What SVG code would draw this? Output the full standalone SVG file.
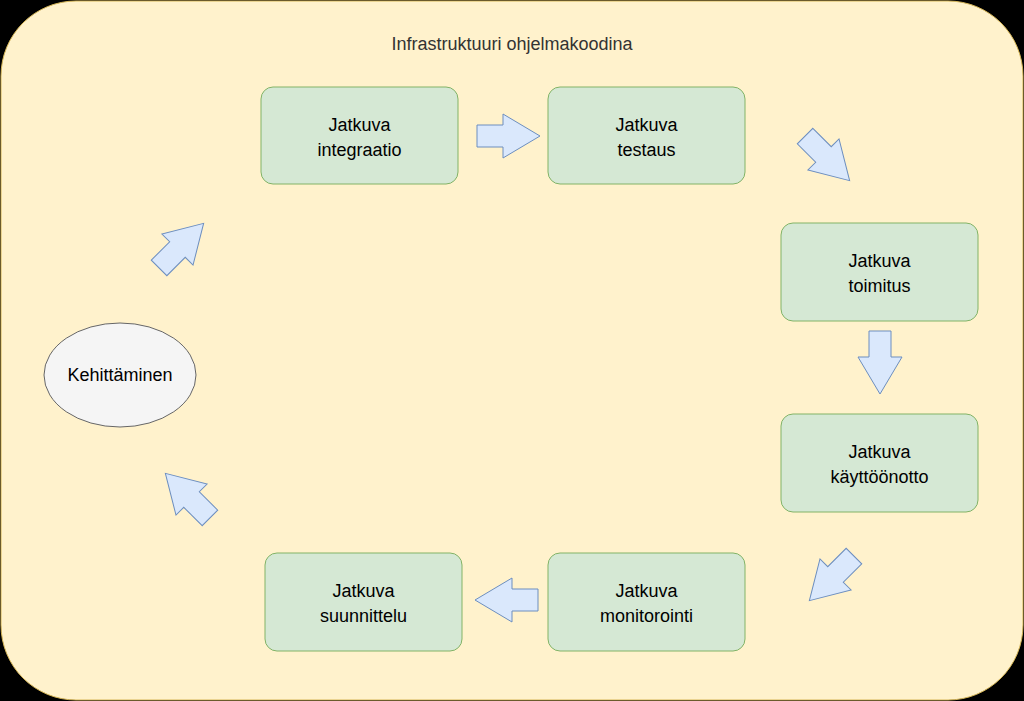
<svg xmlns="http://www.w3.org/2000/svg" width="1024" height="701" viewBox="0 0 1024 701">
<style>
.box{fill:#d5e8d4;stroke:#82b366;stroke-width:1}
.t{font-family:"Liberation Sans",Arial,sans-serif;font-size:18px;fill:#000;text-anchor:middle}
.arr{fill:#dae8fc;stroke:#6c8ebf;stroke-width:1}
</style>
<defs><path id="a" d="M-31,-11 L-5,-11 L-5,-22 L32,0 L-5,22 L-5,11 L-31,11 Z"/></defs>
<rect width="1024" height="701" fill="#000"/>
<g id="container"><rect x="1" y="1" width="1022" height="699" rx="75" fill="#fff2cc" stroke="#d6b656"/>
<text class="t" x="512" y="50" style="fill:#333">Infrastruktuuri ohjelmakoodina</text></g>
<g id="connectors">
<use href="#a" class="arr" transform="translate(508,136)"/>
<use href="#a" class="arr" transform="translate(827,158) rotate(45)"/>
<use href="#a" class="arr" transform="translate(880,362) rotate(90)"/>
<use href="#a" class="arr" transform="translate(832,578) rotate(135)"/>
<use href="#a" class="arr" transform="translate(507,600) rotate(180)"/>
<use href="#a" class="arr" transform="translate(188,496) rotate(225)"/>
<use href="#a" class="arr" transform="translate(181,246) rotate(-45)"/>
</g>
<g id="n1"><rect class="box" x="261" y="87" width="197" height="97" rx="12"/><text class="t" x="359.5" y="131">Jatkuva</text><text class="t" x="359.5" y="156">integraatio</text></g>
<g id="n2"><rect class="box" x="548" y="87" width="197" height="97" rx="12"/><text class="t" x="646.5" y="131">Jatkuva</text><text class="t" x="646.5" y="156">testaus</text></g>
<g id="n3"><rect class="box" x="781" y="223" width="197" height="98" rx="12"/><text class="t" x="879.5" y="267">Jatkuva</text><text class="t" x="879.5" y="292">toimitus</text></g>
<g id="n4"><rect class="box" x="781" y="414" width="197" height="98" rx="12"/><text class="t" x="879.5" y="458">Jatkuva</text><text class="t" x="879.5" y="483">käyttöönotto</text></g>
<g id="n5"><rect class="box" x="548" y="553" width="197" height="98" rx="12"/><text class="t" x="646.5" y="597">Jatkuva</text><text class="t" x="646.5" y="622">monitorointi</text></g>
<g id="n6"><rect class="box" x="265" y="553" width="197" height="98" rx="12"/><text class="t" x="363.5" y="597">Jatkuva</text><text class="t" x="363.5" y="622">suunnittelu</text></g>
<g id="n7"><ellipse cx="120" cy="375" rx="76" ry="52" fill="#f5f5f5" stroke="#666"/><text class="t" x="120" y="381">Kehittäminen</text></g>
</svg>
